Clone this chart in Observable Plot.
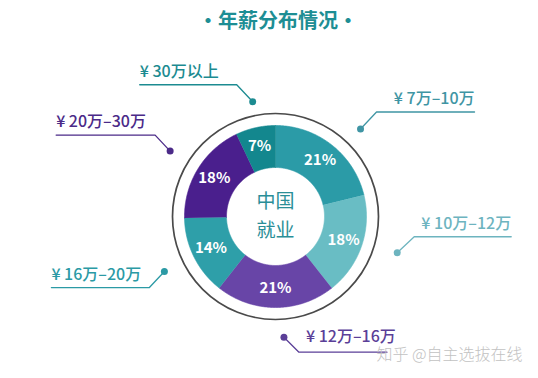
<!DOCTYPE html>
<html><head><meta charset="utf-8">
<script src="https://cdn.jsdelivr.net/npm/d3@7"></script>
<script src="https://cdn.jsdelivr.net/npm/@observablehq/plot@0.6"></script>
<style>
html,body{margin:0;padding:0;background:#fff;}
body{width:538px;height:378px;overflow:hidden;font-family:"Noto Sans CJK SC","Noto Sans",sans-serif;}
#title{height:40px;line-height:40px;text-align:center;font-size:20px;font-weight:700;color:#1d8e94;padding-left:18px;box-sizing:border-box;}
</style></head><body>
<div id="title">·年薪分布情况·</div>
<div id="chart"></div>
<script>
// ---- data ----
const categories = ["¥ 7万–10万", "¥ 10万–12万", "¥ 12万–16万", "¥ 16万–20万", "¥ 20万–30万", "¥ 30万以上"];
const shares = [21, 18, 21, 14, 18, 7];
const centerLines = ["中国", "就业"];
const watermark = "知乎 @自主选拔在线";

// ---- styles ----
const sliceColors = ["#2b9ba7", "#69bdc4", "#6845a7", "#2e9fa9", "#4a1f8d", "#13878e"];
const labelColors = ["#3f95a4", "#6db4bf", "#5b3f98", "#2b9aa5", "#4b2a88", "#1c8b91"];

// ---- layout ----
const W = 538, H = 338;
const cx = 275, cy = 176, rOuter = 91, rInner = 49, rRing = 103, rPct = 72;
const labelLayout = [
  {nudge: 6,   r: 122, ex: 16,  ey: -17, len: 98, anchor: "end"},
  {nudge: -2.5,r: 127, ex: 17,  ey: -16, len: 97, anchor: "end"},
  {nudge: -4,  r: 121, ex: 15,  ey: 15,  len: 88, anchor: "inline"},
  {nudge: 0,   r: 124, ex: -15, ey: 16,  len: 98, anchor: "start"},
  {nudge: 0,   r: 124, ex: -15, ey: -16, len: 99, anchor: "start"},
  {nudge: 1.5, r: 117, ex: -16, ey: -17, len: 97, anchor: "start"}
];

const arcs = d3.pie().sort(null).value(d => d)(shares);
const polar = (a, r) => ({x: cx + r * Math.sin(a), y: cy - r * Math.cos(a)});

// slice outlines
const slicePts = [];
arcs.forEach((p, i) => {
  const n = 80;
  for (let k = 0; k <= n; k++) {
    const a = p.startAngle + (p.endAngle - p.startAngle) * k / n;
    slicePts.push({i, ...polar(a, rOuter)});
  }
  for (let k = n; k >= 0; k--) {
    const a = p.startAngle + (p.endAngle - p.startAngle) * k / n;
    slicePts.push({i, ...polar(a, rInner)});
  }
});

// leader geometry
const leaders = arcs.map((p, i) => {
  const L = labelLayout[i];
  const mid = (p.startAngle + p.endAngle) / 2 + L.nudge * Math.PI / 180;
  const dot = polar(mid, L.r);
  const elbow = {x: dot.x + L.ex, y: dot.y + L.ey};
  const end = {x: elbow.x + Math.sign(L.ex) * L.len, y: elbow.y};
  return {i, dot, elbow, end, L};
});
const leaderPts = leaders.flatMap(d => [d.dot, d.elbow, d.end].map(q => ({i: d.i, x: q.x, y: q.y, c: labelColors[d.i]})));

const marks = [];
categories.forEach((c, i) => {
  marks.push(Plot.line(slicePts.filter(d => d.i === i), {
    x: "x", y: "y", fill: sliceColors[i], stroke: sliceColors[i], strokeWidth: 0.6
  }));
});
marks.push(Plot.dot([{x: cx, y: cy}], {x: "x", y: "y", r: rRing, fill: "none", stroke: "#4a4a4a", strokeWidth: 1.7}));
marks.push(Plot.text(arcs, {
  x: p => polar((p.startAngle + p.endAngle) / 2, rPct).x,
  y: p => polar((p.startAngle + p.endAngle) / 2, rPct).y,
  text: (p, i) => shares[i] + "%",
  fill: "white", fontSize: 15, fontWeight: 700,
  fontFamily: "'Noto Sans CJK SC', sans-serif"
}));
marks.push(Plot.text(centerLines, {
  x: () => cx, y: (d, i) => cy - 14.5 + i * 28.5, text: d => d,
  fill: "#2a8e97", fontSize: 19, fontWeight: 400,
  fontFamily: "'Noto Sans CJK SC', sans-serif"
}));
marks.push(Plot.line(leaderPts, {x: "x", y: "y", z: "i", stroke: "c", strokeWidth: 1.3}));
marks.push(Plot.dot(leaders, {x: d => d.dot.x, y: d => d.dot.y, r: 3.5, fill: d => labelColors[d.i]}));
leaders.forEach(d => {
  const inline = d.L.anchor === "inline";
  marks.push(Plot.text([categories[d.i]], {
    x: () => inline ? d.dot.x + 22 : d.end.x,
    y: () => inline ? d.dot.y : d.elbow.y - 13,
    text: t => t,
    textAnchor: inline ? "start" : d.L.anchor,
    fill: labelColors[d.i], fontSize: 16, fontWeight: 500,
    fontFamily: "'Noto Sans CJK SC', sans-serif"
  }));
});
marks.push(Plot.text([watermark], {
  x: () => 376, y: () => 314, text: t => t, textAnchor: "start",
  fill: "#c2c2c2", fontSize: 16, fontWeight: 300,
  fontFamily: "'Noto Sans CJK SC', sans-serif"
}));

const chart = Plot.plot({
  width: W, height: H, margin: 0,
  x: {domain: [0, W], axis: null},
  y: {domain: [0, H], range: [0, H], axis: null},
  color: {type: "identity"},
  style: {background: "white", fontFamily: "'Noto Sans CJK SC', sans-serif"},
  marks
});
document.getElementById("chart").appendChild(chart);
</script>
</body></html>
